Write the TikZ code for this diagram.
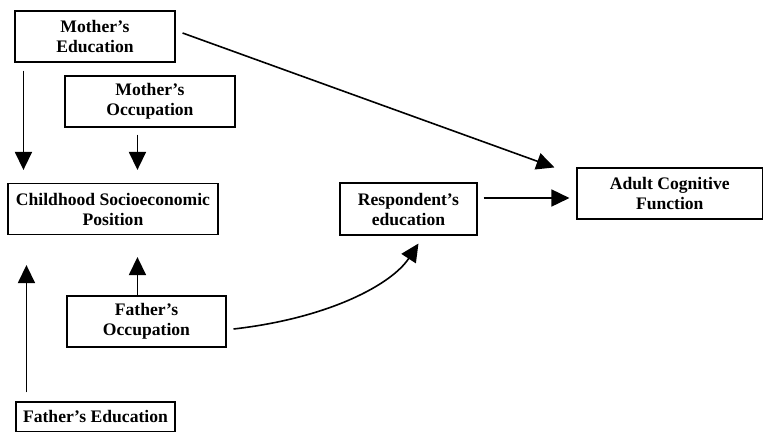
\documentclass[tikz,border=0pt]{standalone}
\usepackage{fontspec}
\setmainfont{Liberation Serif}
\usetikzlibrary{calc,arrows.meta}
\begin{document}
\begin{tikzpicture}[x=1pt,y=-1pt,
  box/.style={draw=black,line width=1.1pt,rectangle,inner sep=0pt,align=center,
    font=\fontsize{17.6}{20}\selectfont\bfseries},
  arr/.style={line width=1.6pt,-{Triangle[length=18pt,width=17pt]}}]
\path[use as bounding box,fill=white] (0,0) rectangle (763,432);
\node[box,minimum width=160pt,minimum height=51pt] (me) at (95,36.5) {Mother’s\\Education};
\node[box,minimum width=170pt,minimum height=51pt] (mo) at (150,101.5) {Mother’s\\Occupation};
\node[box,minimum width=210pt,minimum height=51pt] (sep) at (113,209) {Childhood Socioeconomic\\Position};
\node[box,minimum width=159pt,minimum height=51pt] (fo) at (146.5,321.5) {Father’s\\Occupation};
\node[box,minimum width=159pt,minimum height=29.5pt] (fe) at (95.5,416.75) {Father’s Education};
\node[box,minimum width=137pt,minimum height=52pt] (re) at (408.5,209) {Respondent’s\\education};
\node[box,minimum width=185.5pt,minimum height=51pt] (ac) at (669.75,193.5) {Adult Cognitive\\Function};
\draw[arr] ($(me.south west)+(9,8)$) -- ($(sep.north west)+(16,-13)$);
\draw[arr] ($(mo.south west)+(73,7)$) -- ($(sep.north west)+(130,-13)$);
\draw[arr] ($(fe.north west)+(11,-9)$) -- ($(sep.south west)+(19,30)$);
\draw[arr] ($(fo.north west)+(71,0)$) -- ($(sep.south west)+(130,22)$);
\draw[arr] ($(me.east)+(7,-3.5)$) -- ($(ac.north west)+(-22,0)$);
\draw[arr] ($(re.east)+(6,-11)$) -- ($(ac.west)+(-7,4.5)$);
\coordinate (c1) at (330,318);
\coordinate (c2) at (392,284);
\draw[arr] ($(fo.east)+(7,7.5)$) .. controls (c1) and (c2) .. ($(re.south west)+(79,8)$);
\end{tikzpicture}
\end{document}
